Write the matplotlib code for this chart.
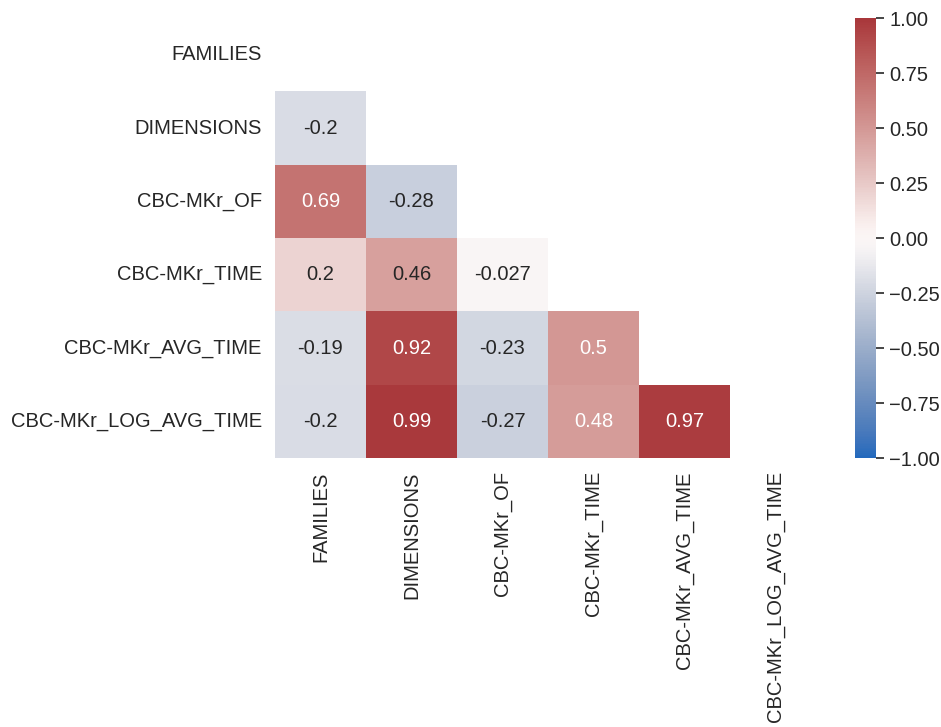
import numpy as np
import pandas as pd
import matplotlib
matplotlib.use("Agg")
import matplotlib.pyplot as plt
import seaborn as sns

features = ["FAMILIES", "DIMENSIONS", "CBC-MKr_OF", "CBC-MKr_TIME",
            "CBC-MKr_AVG_TIME", "CBC-MKr_LOG_AVG_TIME"]

# lower-triangle correlation coefficients, row by row
row_dimensions = [-0.2]
row_of = [0.69, -0.28]
row_time = [0.2, 0.46, -0.027]
row_avg_time = [-0.19, 0.92, -0.23, 0.5]
row_log_avg_time = [-0.2, 0.99, -0.27, 0.48, 0.97]

cbar_ticks = [-1, -0.75, -0.5, -0.25, 0, 0.25, 0.5, 0.75, 1]

lower_rows = [row_dimensions, row_of, row_time, row_avg_time, row_log_avg_time]
n = len(features)
corr = np.eye(n)
for i, row in enumerate(lower_rows, start=1):
    for j, v in enumerate(row):
        corr[i, j] = v
        corr[j, i] = v
corr = pd.DataFrame(corr, index=features, columns=features)

sns.set_theme(style="white")
plt.rcParams["font.family"] = ["Liberation Sans", "DejaVu Sans"]

fs = 14.5
fig = plt.figure(figsize=(9.41, 7.27), dpi=100)
ax = fig.add_axes([0.2922, 0.370, 0.5803, 0.605])
cax = fig.add_axes([0.9086, 0.370, 0.0224, 0.605])

mask = np.triu(np.ones_like(corr, dtype=bool))
sns.heatmap(corr, mask=mask, cmap="vlag", vmin=-1, vmax=1, annot=True,
            annot_kws={"fontsize": fs}, ax=ax, cbar_ax=cax)

ax.tick_params(axis="both", labelsize=fs, colors="#262626")
plt.setp(ax.get_xticklabels(), rotation=90)
plt.setp(ax.get_yticklabels(), rotation=0)
cax.tick_params(labelsize=fs, colors="#262626", length=6, width=1.2)
cax.set_yticks(cbar_ticks)
cax.set_yticklabels([f"{v:.2f}".replace("-", "\u2212") for v in cbar_ticks])

fig.savefig("out.png", dpi=100)
